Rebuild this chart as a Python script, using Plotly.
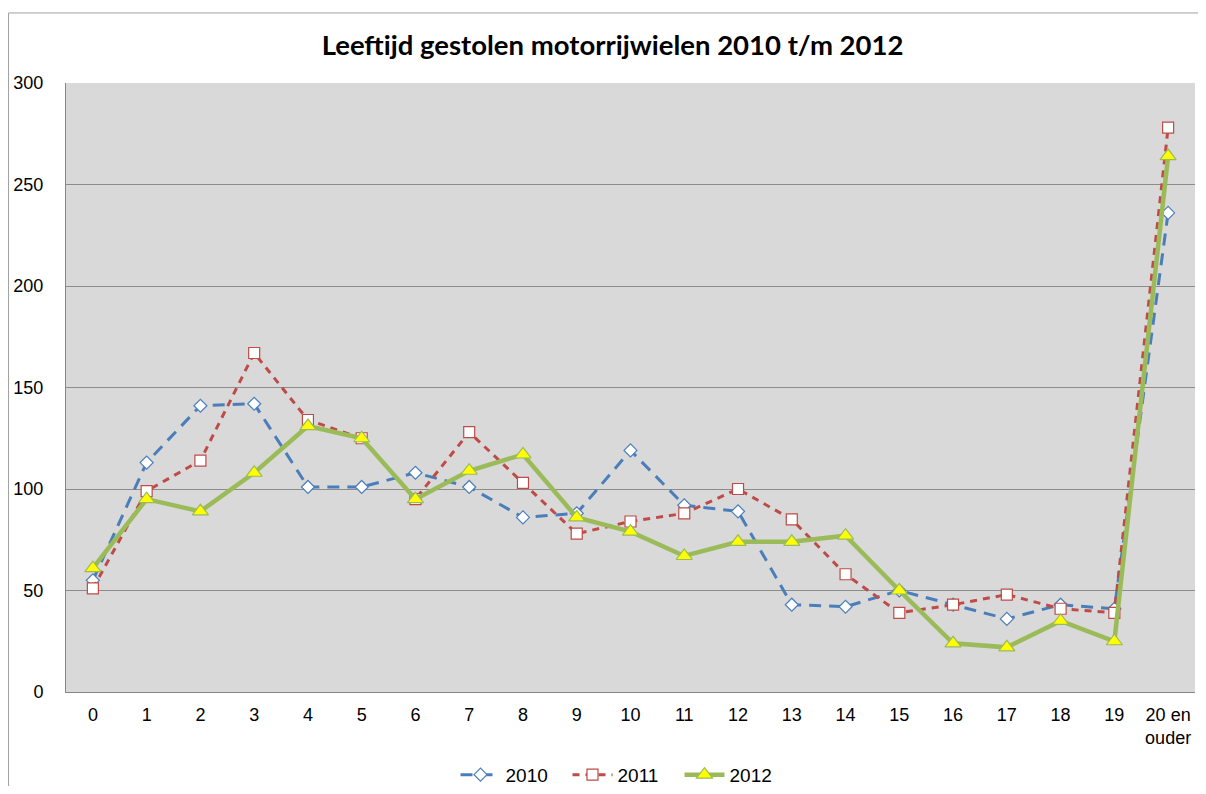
import plotly.graph_objects as go

categories = [str(i) for i in range(20)] + ["20 en<br>ouder"]
v2010 = [55, 113, 141, 142, 101, 101, 108, 101, 86, 88, 119, 92, 89, 43, 42, 50, 43, 36, 43, 41, 236]
v2011 = [51, 99, 114, 167, 134, 125, 95, 128, 103, 78, 84, 88, 100, 85, 58, 39, 43, 48, 41, 39, 278]
v2012 = [61, 95, 89, 108, 131, 125, 95, 109, 117, 86, 79, 67, 74, 74, 77, 50, 24, 22, 35, 25, 264]
y_ticks = [0, 50, 100, 150, 200, 250, 300]

fig = go.Figure()
fig.add_trace(go.Scatter(
    x=categories, y=v2010, name="2010", mode="lines+markers",
    line=dict(color="#4A7EBB", width=3, dash="12px,8px"),
    marker=dict(symbol="diamond", size=10, color="white", line=dict(color="#4A7EBB", width=1.2)),
))
fig.add_trace(go.Scatter(
    x=categories, y=v2011, name="2011", mode="lines+markers",
    line=dict(color="#BE4B48", width=3, dash="7px,6px"),
    marker=dict(symbol="square", size=11, color="white", line=dict(color="#BE4B48", width=1.2)),
))
fig.add_trace(go.Scatter(
    x=categories, y=v2012, name="2012", mode="lines+markers",
    line=dict(color="#9BBB59", width=4.5),
    marker=dict(symbol="triangle-up", size=14, color="#FFFF00", line=dict(color="#9BBB59", width=1.2)),
))

fig.update_layout(
    width=1190, height=778,
    margin=dict(l=58, r=3, t=75, b=94, autoexpand=False),
    paper_bgcolor="white", plot_bgcolor="#D9D9D9",
    title=dict(text="<b>Leeftijd gestolen motorrijwielen 2010 t/m 2012</b>",
               x=0.508, xanchor="center", y=0.952, yanchor="middle",
               font=dict(family="Lato, Open Sans, sans-serif", size=27.5, color="black")),
    font=dict(family="Liberation Sans", size=18, color="black"),
    showlegend=True,
    legend=dict(orientation="h", x=0.345, xanchor="left", y=-0.136, yanchor="middle",
                font=dict(family="Liberation Sans", size=19), itemwidth=40,
                entrywidth=57, entrywidthmode="pixels",
                bgcolor="rgba(0,0,0,0)"),
    xaxis=dict(type="category", range=[-0.5, 20.5], showgrid=False, showline=True,
               linecolor="#868686", linewidth=1, ticks="", tickangle=0,
               tickfont=dict(family="Liberation Sans", size=18), automargin=False,
               ticklabelstandoff=6),
    yaxis=dict(range=[0, 300], tickvals=y_ticks, showgrid=True, gridcolor="#8C8C8C", gridwidth=1,
               showline=True, linecolor="#868686", linewidth=1, ticks="",
               tickfont=dict(family="Liberation Sans", size=18), zeroline=False,
               ticklabelstandoff=18, automargin=False),
)
fig.add_shape(type="rect", xref="paper", yref="paper", x0=-0.0509, x1=1.02, y0=-0.2, y1=1.115,
              line=dict(color="#A0A0A0", width=1), fillcolor="rgba(0,0,0,0)", layer="below")

fig.write_html("out.html")
